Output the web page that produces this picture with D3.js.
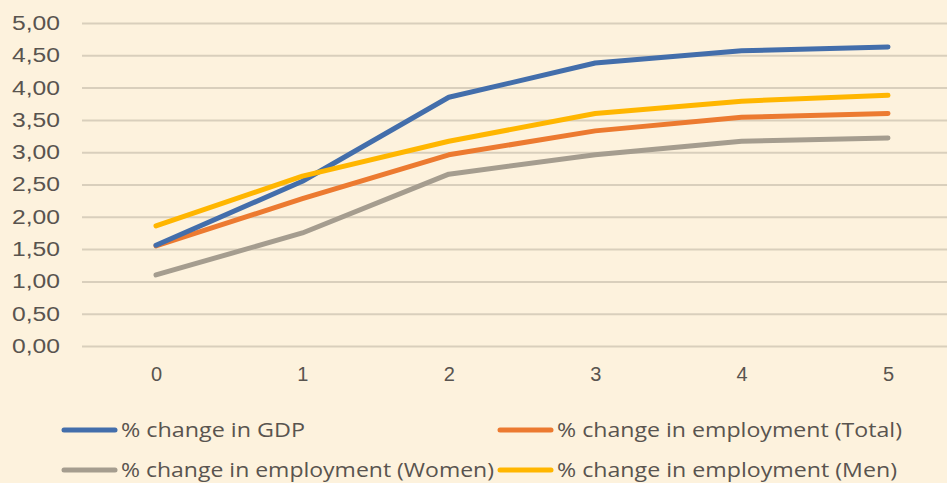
<!DOCTYPE html>
<html>
<head>
<meta charset="utf-8">
<script src="https://cdn.jsdelivr.net/npm/d3@7"></script>
<style>
  body { margin: 0; background: #fdf2dd; }
  svg { display: block; font-family: "Open Sans", Lato, sans-serif; }
</style>
</head>
<body>
<svg></svg>
<script>
const years = [0, 1, 2, 3, 4, 5];
const gdp = [1.56, 2.55, 3.85, 4.38, 4.57, 4.63];
const empTotal = [1.55, 2.28, 2.96, 3.33, 3.54, 3.60];
const empWomen = [1.10, 1.75, 2.66, 2.96, 3.17, 3.22];
const empMen = [1.86, 2.63, 3.17, 3.60, 3.79, 3.88];
const yTicks = [0, 0.5, 1, 1.5, 2, 2.5, 3, 3.5, 4, 4.5, 5];

const series = [
    {name: '% change in GDP', values: gdp, color: '#436eab'},
    {name: '% change in employment (Total)', values: empTotal, color: '#ec7a30'},
    {name: '% change in employment (Women)', values: empWomen, color: '#a59d8f'},
    {name: '% change in employment (Men)', values: empMen, color: '#ffb600'}
];
// draw order: women, total, gdp, men on top
const drawOrder = [2, 1, 0, 3];

const W = 947, H = 483;
const svg = d3.select('svg').attr('width', W).attr('height', H);
svg.append('rect').attr('width', W).attr('height', H).attr('fill', '#fdf2dd');

const scaleX = d3.scaleLinear().domain([0, 5]).range([156, 888]);
const scaleY = d3.scaleLinear().domain([0, 5]).range([346, 23]);

// gridlines + y labels
const axisY = d3.axisLeft(scaleY)
    .tickValues(yTicks)
    .tickSize(-(W - 82))
    .tickPadding(22)
    .tickFormat(d => d3.format('.2f')(d).replace('.', ','));
svg.append('g')
    .attr('transform', 'translate(82,0)')
    .call(axisY)
    .call(g => g.select('.domain').remove())
    .call(g => g.selectAll('line').attr('stroke', '#d9cfbc').attr('stroke-width', 2))
    .call(g => g.selectAll('text').attr('fill', '#59544f').attr('font-size', 20)
        .attr('textLength', 48).attr('lengthAdjust', 'spacingAndGlyphs'));

const axisX = d3.axisBottom(scaleX).tickValues(years).tickSize(0).tickPadding(21).tickFormat(d3.format('d'));
svg.append('g')
    .attr('transform', 'translate(0,346)')
    .call(axisX)
    .call(g => g.select('.domain').remove())
    .call(g => g.selectAll('text').attr('fill', '#59544f').attr('font-size', 20));

const line = d3.line()
    .x((d, i) => scaleX(years[i]))
    .y(d => scaleY(d));

svg.append('g').selectAll('path')
    .data(drawOrder.map(i => series[i]))
    .join('path')
    .attr('d', d => line(d.values))
    .attr('fill', 'none')
    .attr('stroke', d => d.color)
    .attr('stroke-width', 5)
    .attr('stroke-linecap', 'round')
    .attr('stroke-linejoin', 'round');

// legend
const legendPos = [[62, 430], [498, 430], [62, 470], [498, 470]];
const legendLen = [184, 345, 373, 340];
const legend = svg.append('g').selectAll('g')
    .data(series)
    .join('g')
    .attr('transform', (d, i) => `translate(${legendPos[i][0]},${legendPos[i][1]})`);
legend.append('line')
    .attr('x1', 2).attr('x2', 53)
    .attr('stroke', d => d.color)
    .attr('stroke-width', 5)
    .attr('stroke-linecap', 'round');
legend.append('text')
    .attr('x', 59)
    .attr('dy', '0.35em')
    .attr('fill', '#59544f')
    .attr('font-size', 20)
    .attr('textLength', (d, i) => legendLen[i])
    .attr('lengthAdjust', 'spacingAndGlyphs')
    .text(d => d.name);
</script>
</body>
</html>
